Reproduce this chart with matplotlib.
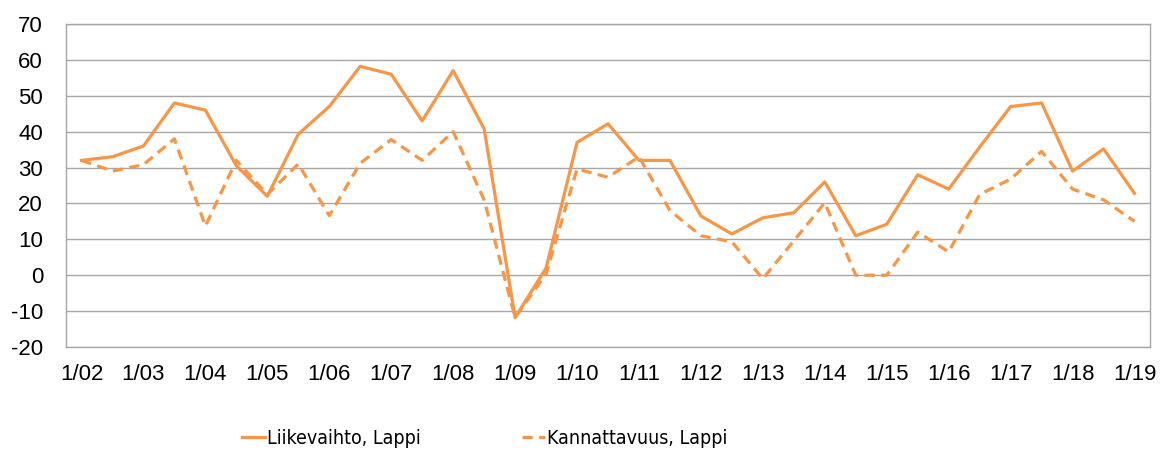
import matplotlib
matplotlib.use("Agg")
from matplotlib import pyplot as plt
from matplotlib import font_manager

plt.rcParams['axes.unicode_minus'] = False

# half-year points, 1/02 ... 1/19
periods = list(range(35))
tickLabels = ['1/%02d' % y for y in range(2, 20)]

liikevaihto = [32, 33, 36, 48, 46, 30.5, 22, 39.3, 47, 58.2, 56,
               43, 57, 40.8, -11.8, 2, 37, 42.2, 32, 32, 16.5,
               11.5, 16, 17.4, 26, 11, 14.2, 28, 24, 35.7, 47,
               48, 29, 35.2, 22.8]
kannattavuus = [32, 29, 30.8, 38, 13.7, 32, 22.5, 31, 16.6, 31.2, 37.8,
                32, 40, 21, -11.8, 0.3, 29.6, 27.3, 33, 18, 11,
                9.3, -1, 9.6, 20.2, 0, 0, 12, 6.5, 22.5, 26.8,
                34.5, 24, 21, 15]

orange = '#F79646'

# narrow font for the legend if one is around
names = set(f.name for f in font_manager.fontManager.ttflist)
legProp = {'family': 'Liberation Sans', 'size': 14}
if 'Liberation Sans Narrow' in names:
    legProp = {'family': 'Liberation Sans Narrow', 'size': 16}
else:
    for f in font_manager.fontManager.ttflist:
        if f.name == 'DejaVu Sans' and f.stretch == 'condensed':
            legProp = {'family': 'DejaVu Sans', 'stretch': 'condensed', 'size': 14}
            break

fig = plt.figure(figsize=(11.74, 4.5), dpi=100)
ax = fig.add_axes([66/1174, 1-347/450, (1150-66)/1174, (347-24)/450])

solidLine, = ax.plot(periods, liikevaihto, color=orange, lw=2.3,
                     label='Liikevaihto, Lappi')
dashLine, = ax.plot(periods, kannattavuus, color=orange, lw=2.3,
                    label='Kannattavuus, Lappi')
dashLine.set_dashes((3.2, 2.0))

ax.set_xlim(-0.5, 34.5)
ax.set_ylim(-20, 70)
ax.set_yticks(range(-20, 71, 10))
ax.set_xticks(periods[::2])
ax.set_xticklabels(tickLabels)
ax.tick_params(length=0, labelsize=16, colors='#000000')
for lab in ax.get_xticklabels() + ax.get_yticklabels():
    lab.set_family('Liberation Sans')
ax.tick_params(axis='y', pad=16.5)
ax.tick_params(axis='x', pad=12.5)

ax.yaxis.grid(True, color='#A6A6A6', lw=1)
ax.set_axisbelow(True)
for s in ax.spines.values():
    s.set_color('#A6A6A6')
    s.set_linewidth(1)

# two legend entries placed separately, as in the original
for line, x0 in [(solidLine, 242), (dashLine, 522)]:
    fig.legend(handles=[line], loc='center left',
               bbox_to_anchor=(x0/1174, 1-438/450), frameon=False,
               borderpad=0, borderaxespad=0, handlelength=1.2,
               handletextpad=0.1, prop=legProp)

fig.savefig('out.png', dpi=100)
